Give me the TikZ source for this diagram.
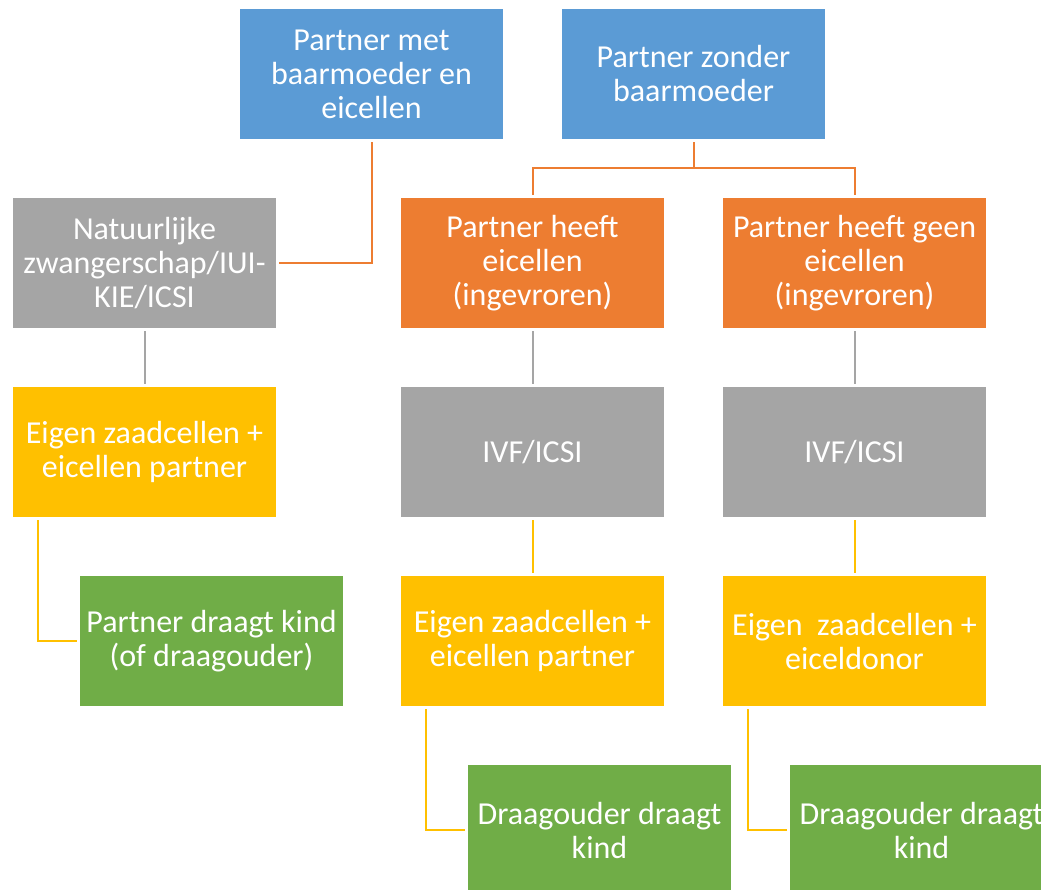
\documentclass[tikz,border=0pt]{standalone}
\usepackage{fontspec}
\setmainfont{Carlito}
\usetikzlibrary{calc}
\definecolor{cblue}{HTML}{5B9BD5}
\definecolor{corange}{HTML}{ED7D31}
\definecolor{cgray}{HTML}{A5A5A5}
\definecolor{cyellow}{HTML}{FFC000}
\definecolor{cgreen}{HTML}{70AD47}
\tikzset{
  box/.style={rectangle, minimum width=263pt, minimum height=130pt, inner sep=0pt,
    text=white, align=center, font=\fontsize{32pt}{34pt}\selectfont},
  bluebox/.style={box, fill=cblue},
  orangebox/.style={box, fill=corange},
  graybox/.style={box, fill=cgray},
  yellowbox/.style={box, fill=cyellow},
  greenbox/.style={box, fill=cgreen},
  conn/.style={line width=2pt, shorten <=3pt, shorten >=3pt},
}
\begin{document}
\begin{tikzpicture}[x=1pt, y=-1pt]
\useasboundingbox (0,0) rectangle (1041,890);
\clip (0,0) rectangle (1041,890);
\fill[white] (0,0) rectangle (1041,890);

\node[bluebox] (b1) at (371.5,74) {Partner met\\baarmoeder en\\eicellen};
\node[bluebox] (b2) at (693.5,74) {Partner zonder\\baarmoeder};
\node[graybox] (b3) at (144.5,263) {Natuurlijke\\zwangerschap/IUI-\\KIE/ICSI};
\node[orangebox] (b4) at (532.5,263) {Partner heeft\\eicellen\\(ingevroren)};
\node[orangebox] (b5) at (854.5,263) {Partner heeft geen\\eicellen\\(ingevroren)};
\node[yellowbox] (b6) at (144.5,452) {Eigen zaadcellen +\\eicellen partner};
\node[graybox] (b7) at (532.5,452) {IVF/ICSI};
\node[graybox] (b8) at (854.5,452) {IVF/ICSI};
\node[greenbox] (b9) at (211.5,641) {Partner draagt kind\\(of draagouder)};
\node[yellowbox] (b10) at (532.5,641) {Eigen zaadcellen +\\eicellen partner};
\node[yellowbox] (b11) at (854.5,641) {Eigen\ \ zaadcellen +\\eiceldonor};
\node[greenbox] (b12) at (599.5,830) {Draagouder draagt\\kind};
\node[greenbox] (b13) at (921.5,830) {Draagouder draagt\\kind};

\coordinate (j) at (693.5,168);
\draw[conn, corange] (b1.south) |- (b3.east);
\draw[conn, corange, shorten >=0pt] (b2.south) -- (j);
\draw[conn, corange] (b4.north) |- (j) -| (b5.north);
\draw[conn, cgray] (b3.south) -- (b6.north);
\draw[conn, cgray] (b4.south) -- (b7.north);
\draw[conn, cgray] (b5.south) -- (b8.north);
\draw[conn, cyellow] ($(b6.south west)+(25,0)$) |- (b9.west);
\draw[conn, cyellow] (b7.south) -- (b10.north);
\draw[conn, cyellow] (b8.south) -- (b11.north);
\draw[conn, cyellow] ($(b10.south west)+(25,0)$) |- (b12.west);
\draw[conn, cyellow] ($(b11.south west)+(25,0)$) |- (b13.west);
\end{tikzpicture}
\end{document}
